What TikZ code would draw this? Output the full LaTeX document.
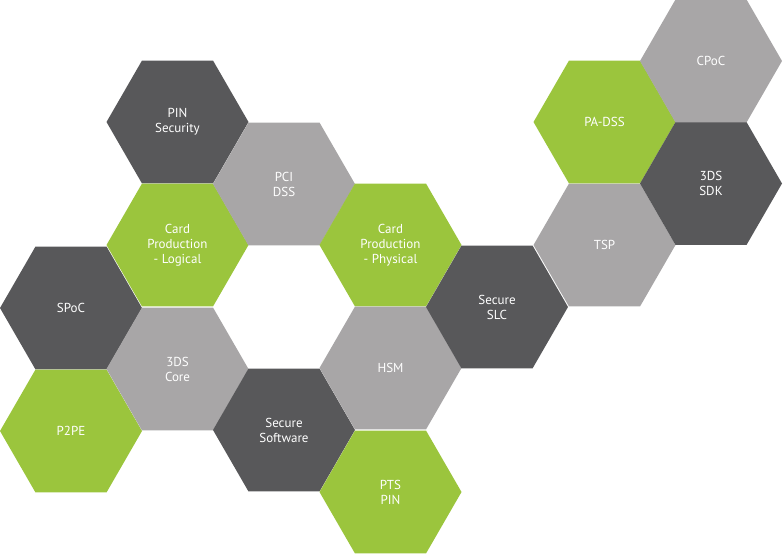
\documentclass[tikz,border=0pt]{standalone}
\usepackage{fontspec}
\setmainfont{PT Sans}
\usetikzlibrary{shapes.geometric}
\definecolor{hexgreen}{HTML}{9BC53D}
\definecolor{hexdark}{HTML}{58585A}
\definecolor{hexlight}{HTML}{A8A6A7}

\begin{document}
\begin{tikzpicture}[x=1pt, y=-1pt,
  hex/.style={regular polygon, regular polygon sides=6, minimum size=142pt, inner sep=0pt,
    text=white, align=center, font=\fontsize{13}{15}\selectfont},
  hexG/.style={hex, fill=hexgreen},
  hexD/.style={hex, fill=hexdark},
  hexL/.style={hex, fill=hexlight}]
\useasboundingbox (0,0) rectangle (783,554);
\node[hexD] (spoc) at (71,308) {SPoC};
\node[hexG] (p2pe) at (71,431) {P2PE};
\node[hexD] (pin) at (177.5,122) {PIN\\Security};
\node[hexG] (cpl) at (177.5,245) {Card\\Production\\- Logical};
\node[hexL] (core) at (177.5,369) {3DS\\Core};
\node[hexL] (pci) at (284,184) {PCI\\DSS};
\node[hexD] (sw) at (284,430) {Secure\\Software};
\node[hexG] (cpp) at (390.5,245) {Card\\Production\\- Physical};
\node[hexL] (hsm) at (390.5,368) {HSM};
\node[hexG] (pts) at (390.5,492) {PTS\\PIN};
\node[hexD] (slc) at (497,307) {Secure\\SLC};
\node[hexL] (tsp) at (604.5,245) {TSP};
\node[hexG] (padss) at (604.5,122) {PA-DSS};
\node[hexD] (sdk) at (711,183.5) {3DS\\SDK};
\node[hexL] (cpoc) at (711,61) {CPoC};
\end{tikzpicture}
\end{document}
